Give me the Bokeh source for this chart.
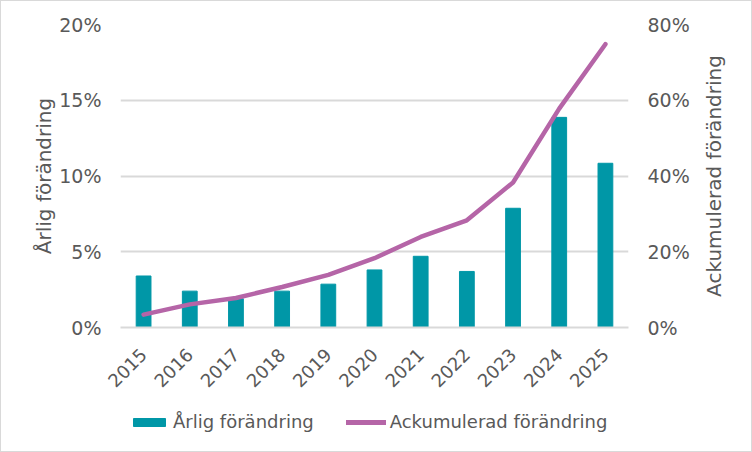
from bokeh.plotting import figure
from bokeh.models import (Range1d, LinearAxis, NumeralTickFormatter, FixedTicker,
                          Legend, LegendItem, ColumnDataSource, FactorRange, Label)
from bokeh.layouts import column, row
from bokeh.embed import file_html
from bokeh.resources import INLINE
import math

years = ["2015", "2016", "2017", "2018", "2019", "2020", "2021", "2022", "2023", "2024", "2025"]
annual = [0.034, 0.024, 0.019, 0.024, 0.0286, 0.038, 0.047, 0.037, 0.0787, 0.1387, 0.1084]
cumulative = [0.034, 0.061, 0.078, 0.107, 0.139, 0.183, 0.239, 0.283, 0.383, 0.578, 0.748]
left_ticks = [0, 0.05, 0.10, 0.15, 0.20]
right_ticks = [0, 0.2, 0.4, 0.6, 0.8]
left_title = "Årlig förändring"
right_title = "Ackumulerad förändring"

FONT = "DejaVu Sans"
TXT = "#595959"
GRID = "#D9D9D9"
TEAL = "#0097A7"
PURPLE = "#B565A7"

src = ColumnDataSource(dict(year=years, annual=annual, cumulative=cumulative))

p = figure(width=692, height=400, x_range=FactorRange(*years), y_range=Range1d(0, 0.2),
           output_backend="svg", toolbar_location=None,
           min_border_left=120, min_border_right=61, min_border_top=24, min_border_bottom=73)
p.extra_y_ranges = {"cum": Range1d(0, 0.8)}
p.outline_line_color = None
p.background_fill_color = "white"
p.border_fill_alpha = 0

bars = p.vbar(x="year", top="annual", width=0.32, source=src, color=TEAL)
line = p.line(x="year", y="cumulative", source=src, y_range_name="cum",
              line_color=PURPLE, line_width=4.5, line_cap="round", line_join="round")

ya = p.yaxis[0]
ya.ticker = FixedTicker(ticks=left_ticks)
ya.formatter = NumeralTickFormatter(format="0%")
ya.axis_label = left_title

ra = LinearAxis(y_range_name="cum", ticker=FixedTicker(ticks=right_ticks),
                formatter=NumeralTickFormatter(format="0%"))
p.add_layout(ra, "right")

for ax in (ya, ra):
    ax.axis_line_color = None
    ax.major_tick_line_color = None
    ax.minor_tick_line_color = None
    ax.major_tick_out = 0
    ax.major_tick_in = 0
    ax.major_label_standoff = 19
    ax.major_label_text_font = FONT
    ax.major_label_text_font_size = "19px"
    ax.major_label_text_color = TXT
    ax.axis_label_text_font = FONT
    ax.axis_label_text_font_size = "20px"
    ax.axis_label_text_font_style = "normal"
    ax.axis_label_text_color = TXT
ya.axis_label_standoff = 0

xa = p.xaxis[0]
xa.axis_line_color = GRID
xa.axis_line_width = 2
xa.major_tick_line_color = None
xa.minor_tick_line_color = None
xa.major_label_orientation = math.pi / 4
xa.major_label_text_font = FONT
xa.major_label_text_font_size = "18px"
xa.major_label_text_color = TXT
xa.major_label_standoff = 18

p.xgrid.grid_line_color = None
p.ygrid.grid_line_color = GRID
p.ygrid.grid_line_width = 2

# legend strip (its frame is aligned with the chart's frame by the column layout)
nan = float("nan")
lg = figure(width=692, height=52, output_backend="svg", toolbar_location=None,
            x_range=Range1d(0, 1), y_range=Range1d(0, 1),
            min_border_left=120, min_border_right=61, min_border_top=0, min_border_bottom=0,
            x_axis_location=None, y_axis_location=None)
lg.outline_line_color = None
lg.grid.grid_line_color = None
lg.background_fill_alpha = 0
lg.border_fill_alpha = 0
lg_bar = lg.vbar(x=[nan], top=[nan], width=0.3, color=TEAL)
lg_line = lg.line(x=[nan, nan], y=[nan, nan], line_color=PURPLE, line_width=5, line_cap="round")
legend = Legend(items=[LegendItem(label="Årlig förändring", renderers=[lg_bar]),
                       LegendItem(label="Ackumulerad förändring", renderers=[lg_line])],
                orientation="horizontal", location=(9, 20),
                label_text_font=FONT, label_text_font_size="18px", label_text_color=TXT,
                glyph_width=40, glyph_height=10, label_standoff=4, spacing=32,
                border_line_color=None, background_fill_alpha=0, padding=0, margin=0)
lg.add_layout(legend, "center")

# strip holding the right axis title (reads bottom to top)
tf = figure(width=60, height=400, output_backend="svg", toolbar_location=None,
            x_range=Range1d(0, 60), y_range=Range1d(0, 0.8),
            min_border_left=0, min_border_right=0, min_border_top=24, min_border_bottom=73,
            x_axis_location=None, y_axis_location=None)
tf.outline_line_color = None
tf.grid.grid_line_color = None
tf.background_fill_alpha = 0
tf.border_fill_alpha = 0
tf.add_layout(Label(x=21, y=0.4, text=right_title, angle=math.pi / 2,
                    text_align="center", text_baseline="middle",
                    text_font=FONT, text_font_size="20px", text_color=TXT))

layout = row(column(p, lg, spacing=0), tf, spacing=0)
layout.styles = {"box-shadow": "inset 0 0 0 1px #D9D9D9", "background-color": "white"}

open("out.html", "w").write(file_html(layout, INLINE))
